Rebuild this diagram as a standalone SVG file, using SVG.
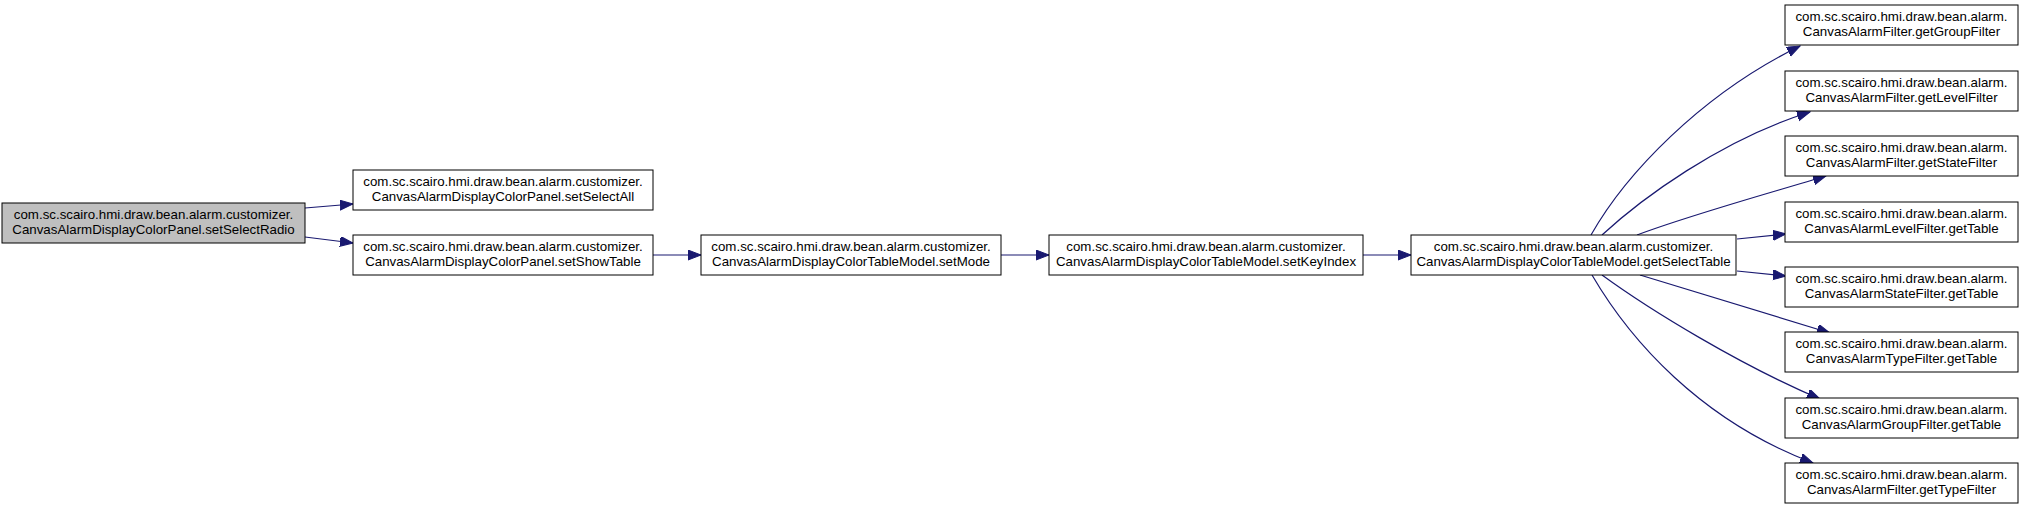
<svg xmlns="http://www.w3.org/2000/svg" width="2023" height="509" viewBox="0 0 2023 509">
<defs>
<style>
.n rect{fill:#ffffff;stroke:#000000;stroke-width:1}
.n.root rect{fill:#bfbfbf}
.n text{font-family:"Liberation Sans",Arial,sans-serif;font-size:13.3px;fill:#000000;text-anchor:middle}
.e path{fill:none;stroke:#191970;stroke-width:1.2;marker-end:url(#ah)}
</style>
<marker id="ah" markerUnits="userSpaceOnUse" markerWidth="14" markerHeight="11" refX="13" refY="5" orient="auto">
<path d="M0,0 L13,5 L0,10 z" fill="#191970" stroke="#191970" stroke-width="1"/>
</marker>
</defs>
<rect width="2023" height="509" fill="#ffffff"/>
<g id="edges" class="e">
<path d="M305,208 L353,204"/>
<path d="M305,237 L353,243"/>
<path d="M653,255 L701,255"/>
<path d="M1001,255 L1049,255"/>
<path d="M1363,255 L1411,255"/>
<path d="M1591,235 C1625,175 1700,95 1800,46"/>
<path d="M1602,235 C1640,200 1720,140 1810,112"/>
<path d="M1637,235 C1690,215 1770,193 1826,176"/>
<path d="M1737,239 L1786,234"/>
<path d="M1737,271 L1786,276"/>
<path d="M1640,275 L1830,333"/>
<path d="M1602,275 C1650,310 1740,365 1820,399"/>
<path d="M1592,275 C1630,340 1700,420 1813,463"/>
</g>
<g id="n_root" class="n root"><rect x="2" y="203" width="303" height="40"/><text x="153.5" y="219">com.sc.scairo.hmi.draw.bean.alarm.customizer.</text><text x="153.5" y="233.5">CanvasAlarmDisplayColorPanel.setSelectRadio</text></g>
<g id="n_setSelectAll" class="n"><rect x="353" y="170" width="300" height="40"/><text x="503" y="186">com.sc.scairo.hmi.draw.bean.alarm.customizer.</text><text x="503" y="200.5">CanvasAlarmDisplayColorPanel.setSelectAll</text></g>
<g id="n_setShowTable" class="n"><rect x="353" y="235" width="300" height="40"/><text x="503" y="251">com.sc.scairo.hmi.draw.bean.alarm.customizer.</text><text x="503" y="265.5">CanvasAlarmDisplayColorPanel.setShowTable</text></g>
<g id="n_setMode" class="n"><rect x="701" y="235" width="300" height="40"/><text x="851" y="251">com.sc.scairo.hmi.draw.bean.alarm.customizer.</text><text x="851" y="265.5">CanvasAlarmDisplayColorTableModel.setMode</text></g>
<g id="n_setKeyIndex" class="n"><rect x="1049" y="235" width="314" height="40"/><text x="1206" y="251">com.sc.scairo.hmi.draw.bean.alarm.customizer.</text><text x="1206" y="265.5">CanvasAlarmDisplayColorTableModel.setKeyIndex</text></g>
<g id="n_getSelectTable" class="n"><rect x="1411" y="235" width="325" height="40"/><text x="1573.5" y="251">com.sc.scairo.hmi.draw.bean.alarm.customizer.</text><text x="1573.5" y="265.5">CanvasAlarmDisplayColorTableModel.getSelectTable</text></g>
<g id="n_getGroupFilter" class="n"><rect x="1785" y="5" width="233" height="40"/><text x="1901.5" y="21">com.sc.scairo.hmi.draw.bean.alarm.</text><text x="1901.5" y="35.5">CanvasAlarmFilter.getGroupFilter</text></g>
<g id="n_getLevelFilter" class="n"><rect x="1785" y="71" width="233" height="40"/><text x="1901.5" y="87">com.sc.scairo.hmi.draw.bean.alarm.</text><text x="1901.5" y="101.5">CanvasAlarmFilter.getLevelFilter</text></g>
<g id="n_getStateFilter" class="n"><rect x="1785" y="136" width="233" height="40"/><text x="1901.5" y="152">com.sc.scairo.hmi.draw.bean.alarm.</text><text x="1901.5" y="166.5">CanvasAlarmFilter.getStateFilter</text></g>
<g id="n_levelGetTable" class="n"><rect x="1785" y="202" width="233" height="40"/><text x="1901.5" y="218">com.sc.scairo.hmi.draw.bean.alarm.</text><text x="1901.5" y="232.5">CanvasAlarmLevelFilter.getTable</text></g>
<g id="n_stateGetTable" class="n"><rect x="1785" y="267" width="233" height="40"/><text x="1901.5" y="283">com.sc.scairo.hmi.draw.bean.alarm.</text><text x="1901.5" y="297.5">CanvasAlarmStateFilter.getTable</text></g>
<g id="n_typeGetTable" class="n"><rect x="1785" y="332" width="233" height="40"/><text x="1901.5" y="348">com.sc.scairo.hmi.draw.bean.alarm.</text><text x="1901.5" y="362.5">CanvasAlarmTypeFilter.getTable</text></g>
<g id="n_groupGetTable" class="n"><rect x="1785" y="398" width="233" height="40"/><text x="1901.5" y="414">com.sc.scairo.hmi.draw.bean.alarm.</text><text x="1901.5" y="428.5">CanvasAlarmGroupFilter.getTable</text></g>
<g id="n_getTypeFilter" class="n"><rect x="1785" y="463" width="233" height="40"/><text x="1901.5" y="479">com.sc.scairo.hmi.draw.bean.alarm.</text><text x="1901.5" y="493.5">CanvasAlarmFilter.getTypeFilter</text></g>
</svg>
